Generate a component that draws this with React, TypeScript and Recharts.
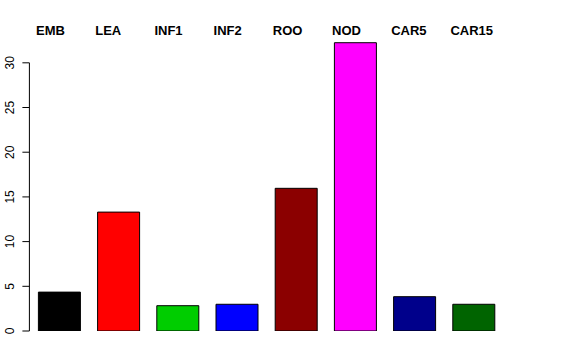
import { BarChart, Bar, XAxis, YAxis, Cell } from 'recharts';

const tissues = ['EMB', 'LEA', 'INF1', 'INF2', 'ROO', 'NOD', 'CAR5', 'CAR15'];
const values = [4.35, 13.3, 2.83, 2.99, 15.96, 32.25, 3.84, 2.99];
const colors = ['#000000', '#ff0000', '#00cd00', '#0000ff', '#8b0000', '#ff00ff', '#00008b', '#006400'];
const yTicks = [0, 5, 10, 15, 20, 25, 30];

const data = tissues.map((t, i) => ({ tissue: t, value: values[i] }));

const FONT = '"Liberation Sans", Arial, Helvetica, sans-serif';
const Y_MAX = 33;
const PLOT_TOP = 36;
const PLOT_BOTTOM = 331;
const AXIS_X = 29.4;
const PX_PER_UNIT = (PLOT_BOTTOM - PLOT_TOP) / Y_MAX;

const TopTick = (props: any) => {
  const { x, y, payload } = props;
  return (
    <text x={x - 23} y={y + 2} textAnchor="start" dominantBaseline="central"
      fontFamily={FONT} fontWeight="bold" fontSize={13} fill="#000">
      {payload.value}
    </text>
  );
};

const LeftTick = (props: any) => {
  const { y, payload } = props;
  return (
    <g>
      <line x1={AXIS_X - 7} x2={AXIS_X} y1={y} y2={y} stroke="#000" />
      {payload.value === 30 && (
        <line x1={AXIS_X} x2={AXIS_X} y1={y} y2={y + 30 * PX_PER_UNIT} stroke="#000" />
      )}
      <text x={10} y={y} transform={`rotate(-90, 10, ${y})`} textAnchor="middle"
        dominantBaseline="central" fontFamily={FONT} fontSize={12} fill="#000">
        {payload.value}
      </text>
    </g>
  );
};

export default function App() {
  return (
    <div style={{ position: 'absolute', left: 0, top: 0, width: 576, height: 360, background: '#fff' }}>
      <BarChart width={576} height={360} data={data}
        margin={{ top: 0, right: 73, bottom: 29, left: 0 }}>
        <XAxis dataKey="tissue" orientation="top" height={PLOT_TOP}
          axisLine={false} tickLine={false} tick={<TopTick />} interval={0} />
        <YAxis type="number" domain={[0, Y_MAX]} ticks={yTicks} width={AXIS_X}
          axisLine={false} tickLine={false} tick={<LeftTick />} allowDataOverflow />
        <Bar dataKey="value" barSize={42} stroke="#000" strokeWidth={1} isAnimationActive={false}>
          {data.map((d, i) => (
            <Cell key={d.tissue} fill={colors[i]} />
          ))}
        </Bar>
      </BarChart>
    </div>
  );
}
